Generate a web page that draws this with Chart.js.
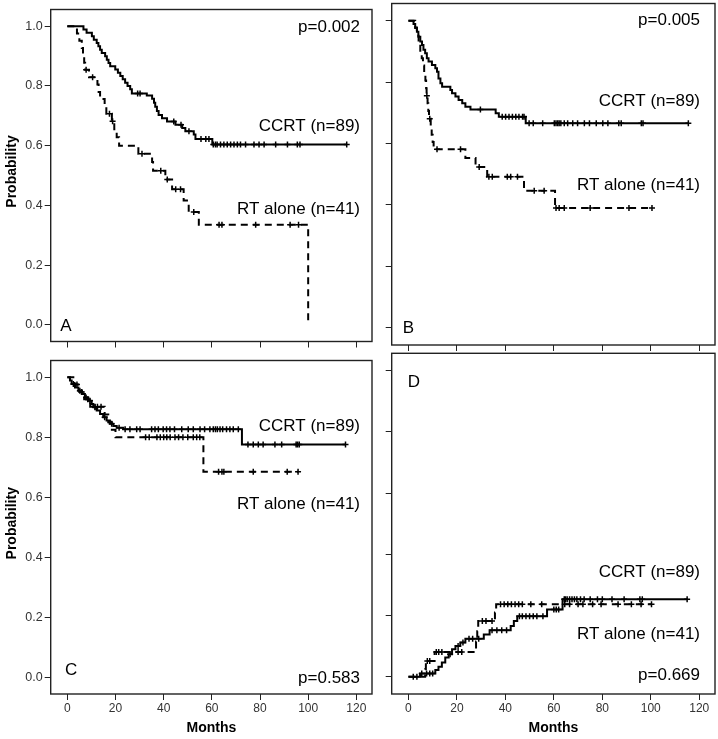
<!DOCTYPE html>
<html>
<head>
<meta charset="utf-8">
<script src="https://cdn.jsdelivr.net/npm/chart.js@4"></script>
<style>
  html, body { margin: 0; padding: 0; background: #fff; }
  #wrap { position: relative; width: 718px; height: 739px; overflow: hidden; }
  canvas { position: absolute; }
</style>
</head>
<body>
<div id="wrap">
  <canvas id="panelA" width="380" height="351" style="left:0;top:0"></canvas>
  <canvas id="panelB" width="338" height="351" style="left:380px;top:0"></canvas>
  <canvas id="panelC" width="380" height="388" style="left:0;top:351px"></canvas>
  <canvas id="panelD" width="338" height="388" style="left:380px;top:351px"></canvas>
</div>
<script>
const FONT = "'Liberation Sans', Arial, sans-serif";

const xTickValues = [0, 20, 40, 60, 80, 100, 120];
const yTickValues = [0, 0.2, 0.4, 0.6, 0.8, 1.0];

// panel A
const aCcrtTimes = [6.7, 8, 10.2, 11, 12.2, 12.9, 13.6, 14.3, 15.7, 16.4, 17.1, 17.8, 19.9, 21, 22, 23, 24, 25, 26.1, 26.8, 33, 35.2, 36, 36.5, 37.2, 37.9, 39.3, 41.4, 44.9, 47.7, 49, 52.5, 53.2, 60.2];
const aCcrtProb = [0.989, 0.978, 0.966, 0.955, 0.944, 0.933, 0.921, 0.910, 0.899, 0.888, 0.877, 0.866, 0.855, 0.844, 0.833, 0.822, 0.811, 0.800, 0.789, 0.775, 0.768, 0.757, 0.744, 0.730, 0.716, 0.703, 0.692, 0.681, 0.670, 0.659, 0.648, 0.637, 0.622, 0.604];
const aCcrtCensor = [29.2, 30.2, 44.2, 47.2, 50.5, 55.5, 57.5, 58.8, 60.6, 61.5, 62.2, 63.6, 65, 66.4, 67.8, 69.2, 70.6, 71.9, 74, 77.5, 79.6, 81.7, 86.5, 91.4, 95.5, 96.6, 116];
const aRtTimes = [4, 5, 6, 6.5, 7, 7.4, 9, 12.5, 13, 13.6, 15.5, 16.2, 18.5, 19.5, 20.5, 21.5, 29.5, 35.2, 35.6, 40.7, 43.5, 48.3, 50.4, 54.6, 100];
const aRtProb = [0.976, 0.951, 0.927, 0.902, 0.878, 0.854, 0.829, 0.805, 0.780, 0.756, 0.731, 0.707, 0.682, 0.655, 0.628, 0.600, 0.573, 0.545, 0.516, 0.487, 0.454, 0.416, 0.378, 0.335, 0];
const aRtCensor = [7.8, 10.5, 17.5, 18.8, 31, 38.8, 41.5, 45, 47, 52.5, 63, 64.2, 78.2, 92.5, 96];

// panel B
const bCcrtTimes = [2.1, 2.8, 3.5, 4.1, 4.9, 5.6, 6.2, 6.9, 7.6, 8.3, 9.7, 11.1, 11.8, 12.4, 13.2, 13.9, 17.3, 18, 19.4, 20.7, 22.2, 23.5, 25.6, 36, 37.3, 48.4];
const bCcrtProb = [0.989, 0.978, 0.964, 0.948, 0.932, 0.921, 0.905, 0.894, 0.878, 0.867, 0.856, 0.845, 0.834, 0.812, 0.796, 0.785, 0.774, 0.764, 0.753, 0.742, 0.731, 0.720, 0.711, 0.699, 0.687, 0.666];
const bCcrtCensor = [29.7, 38.7, 40.1, 41.5, 42.9, 44.3, 45.6, 47.1, 47.7, 49.8, 51.5, 55.4, 60.2, 60.9, 61.6, 62.2, 62.9, 64.3, 65.7, 67.8, 69.8, 72.6, 74.7, 77.5, 80.2, 82.3, 86.8, 87.8, 96.1, 96.8, 115.5];
const bRtTimes = [2.8, 3.5, 4.2, 4.9, 5.5, 6, 6.5, 7, 7.3, 7.5, 7.9, 8.2, 8.5, 9.2, 9.6, 10, 10.4, 23.5, 27.7, 32.5, 47.7, 60.5];
const bRtProb = [0.976, 0.951, 0.927, 0.902, 0.878, 0.854, 0.829, 0.805, 0.780, 0.756, 0.731, 0.706, 0.681, 0.655, 0.629, 0.605, 0.581, 0.553, 0.524, 0.492, 0.446, 0.390];
const bRtCensor = [7.6, 8.8, 11.8, 21.5, 29.2, 33.2, 34.6, 40.8, 42.2, 45, 51.9, 56, 60.9, 62.2, 64.3, 75, 91, 100.5];

// panel C
const cCcrtTimes = [1.1, 1.8, 3.2, 4.6, 6, 7.3, 8.7, 10.1, 10.8, 12.2, 13.6, 14.9, 16.3, 17.7, 19.1, 20.5, 23.2, 72.5];
const cCcrtProb = [0.989, 0.978, 0.966, 0.955, 0.944, 0.933, 0.922, 0.911, 0.900, 0.889, 0.878, 0.867, 0.856, 0.845, 0.838, 0.832, 0.827, 0.776];
const cCcrtCensor = [2.5, 5.2, 7.8, 9.4, 11.5, 15.5, 18.4, 21.5, 24, 26, 28.8, 30.2, 35, 36.4, 37.8, 39.8, 41.2, 42.6, 44.5, 47.5, 50.2, 52.3, 55.1, 57, 59.2, 60.6, 61.5, 62.3, 63.4, 64.5, 66.1, 67.5, 68.9, 71, 75, 77.2, 79.3, 81.3, 86.2, 89, 95, 95.6, 96.3, 115.5];
const cRtTimes = [3, 5, 7, 9.5, 15.5, 17, 18.5, 20, 56.5];
const cRtProb = [0.976, 0.951, 0.927, 0.902, 0.876, 0.850, 0.825, 0.800, 0.685];
const cRtCensor = [4, 6, 8.5, 11.5, 12.5, 14, 32.5, 34, 37.2, 38.6, 40, 41.3, 42.7, 44.7, 46.2, 48, 50, 52.3, 53.7, 55, 62.8, 64.2, 65, 77.2, 91.3, 95.8];

// panel D (rising curves)
const dCcrtTimes = [4.8, 11.1, 12.4, 13.8, 15.2, 16.6, 18, 19.4, 21.4, 23.5, 31.1, 33.5, 42.2, 43.5, 44.9, 57.2, 63.6];
const dCcrtProb = [0.011, 0.022, 0.033, 0.047, 0.063, 0.074, 0.090, 0.101, 0.112, 0.124, 0.138, 0.152, 0.166, 0.182, 0.198, 0.220, 0.253];
const dCcrtCensor = [2, 3.5, 5.5, 7.5, 8.8, 10, 17.2, 20.5, 22.5, 25, 26.5, 29, 34.5, 36.5, 38.5, 40.5, 45.8, 47, 48.5, 50, 51.5, 53, 55.5, 60, 61, 62, 64.3, 64.8, 65.5, 66.5, 67.5, 68.5, 69.5, 71, 72.5, 75, 78, 80, 84, 89, 95.5, 96.5, 115];
const dRtTimes = [6.9, 7.2, 10.8, 27.9, 28.4, 28.8, 35.7, 36.2];
const dRtProb = [0.025, 0.052, 0.081, 0.115, 0.149, 0.182, 0.210, 0.237];
const dRtCensor = [7.8, 8.8, 11.5, 12.5, 13.8, 20.5, 22, 30.5, 32, 34.5, 38, 39.5, 41, 42.5, 44, 45.5, 47, 50.5, 55, 64.5, 66.5, 70, 72, 76, 79.5, 86.5, 92, 96, 100.3];

// value of the step curve at time t
function stepValue(times, probs, start, t) {
  let v = start;
  times.forEach((tt, i) => { if (tt <= t) v = probs[i]; });
  return v;
}

function curvePoints(times, probs, censor, start) {
  const pts = [{ x: 0, y: start }];
  times.forEach((t, i) => pts.push({ x: t, y: probs[i] }));
  const lastT = times[times.length - 1];
  const end = Math.max(lastT, censor[censor.length - 1]);
  if (end > lastT) pts.push({ x: end, y: probs[probs.length - 1] });
  return pts;
}

function censorPoints(times, probs, censor, start) {
  return censor.map(t => ({ x: t, y: stepValue(times, probs, start, t) }));
}

function series(times, probs, censor, start, dashed) {
  return [
    {
      data: curvePoints(times, probs, censor, start),
      showLine: true,
      stepped: "before",
      borderColor: "#000",
      borderWidth: 2,
      borderDash: dashed ? [7, 5] : [],
      pointRadius: 0,
      pointHitRadius: 0,
    },
    {
      data: censorPoints(times, probs, censor, start),
      showLine: false,
      pointStyle: "cross",
      pointRadius: 3,
      borderColor: "#000",
      borderWidth: 1.5,
    },
  ];
}

const framePlugin = {
  id: "frame",
  afterDraw(chart, args, opts) {
    const { ctx, chartArea: a } = chart;
    ctx.save();
    ctx.strokeStyle = "#222";
    ctx.lineWidth = 1.4;
    ctx.strokeRect(a.left, a.top, a.right - a.left, a.bottom - a.top);

    ctx.fillStyle = "#000";
    ctx.textBaseline = "middle";
    ctx.font = "17px " + FONT;
    (opts.notes || []).forEach(([text, ax, dx, ay, dy]) => {
      ctx.textAlign = ax === "r" ? "right" : "left";
      const x = (ax === "r" ? a.right : a.left) + dx;
      const y = (ay === "t" ? a.top : a.bottom) + dy;
      ctx.fillText(text, x, y);
    });

    ctx.font = "bold 14px " + FONT;
    ctx.textAlign = "center";
    if (opts.yTitle) {
      ctx.save();
      ctx.translate(a.left - 38.7, (a.top + a.bottom) / 2 - 4);
      ctx.rotate(-Math.PI / 2);
      ctx.fillText(opts.yTitle, 0, 0);
      ctx.restore();
    }
    if (opts.xTitle) {
      ctx.fillText(opts.xTitle, (a.left + a.right) / 2, a.bottom + 34);
    }
    ctx.restore();
  },
};

function makePanel(id, datasets, p) {
  new Chart(document.getElementById(id), {
    type: "scatter",
    data: { datasets },
    options: {
      responsive: false,
      animation: false,
      events: [],
      layout: { autoPadding: false, padding: p.padding },
      plugins: {
        legend: { display: false },
        tooltip: { enabled: false },
        frame: { notes: p.notes, yTitle: p.yTitle, xTitle: p.xTitle },
      },
      scales: {
        x: {
          type: "linear",
          min: -6.9,
          max: 126.5,
          afterBuildTicks: (axis) => { axis.ticks = xTickValues.map(v => ({ value: v })); },
          afterFit: (axis) => { axis.height = p.xHeight; },
          border: { display: false },
          grid: { drawOnChartArea: false, tickLength: 6, color: "#222" },
          ticks: { display: p.xLabels, padding: 1, color: "#333", font: { family: FONT, size: 12 }, maxRotation: 0 },
        },
        y: {
          type: "linear",
          min: -0.056,
          max: 1.056,
          afterBuildTicks: (axis) => { axis.ticks = yTickValues.map(v => ({ value: v })); },
          afterFit: (axis) => { axis.width = p.yWidth; },
          border: { display: false },
          grid: { drawOnChartArea: false, tickLength: 6, color: "#222" },
          ticks: {
            display: p.yLabels,
            padding: 2,
            color: "#333",
            font: { family: FONT, size: 12.5 },
            callback: (v) => Number(v).toFixed(1),
          },
        },
      },
    },
    plugins: [framePlugin],
  });
}

makePanel("panelA",
  [...series(aCcrtTimes, aCcrtProb, aCcrtCensor, 1, false), ...series(aRtTimes, aRtProb, aRtCensor, 1, true)],
  {
    padding: { top: 3.5, right: 8, bottom: 0, left: 0 },
    yWidth: 50.7, xHeight: 6, yLabels: true, xLabels: false,
    yTitle: "Probability",
    notes: [["p=0.002", "r", -12, "t", 18], ["CCRT (n=89)", "r", -12, "t", 116.5], ["RT alone (n=41)", "r", -12, "t", 199.5], ["A", "l", 9.5, "b", -15]],
  });

makePanel("panelB",
  [...series(bCcrtTimes, bCcrtProb, bCcrtCensor, 1, false), ...series(bRtTimes, bRtProb, bRtCensor, 1, true)],
  {
    padding: { top: 3.5, right: 3, bottom: 0, left: 0 },
    yWidth: 11.7, xHeight: 6, yLabels: false, xLabels: false,
    notes: [["p=0.005", "r", -15, "t", 17], ["CCRT (n=89)", "r", -15, "t", 98], ["RT alone (n=41)", "r", -15, "t", 181.5], ["B", "l", 11, "b", -17]],
  });

makePanel("panelC",
  [...series(cCcrtTimes, cCcrtProb, cCcrtCensor, 1, false), ...series(cRtTimes, cRtProb, cRtCensor, 1, true)],
  {
    padding: { top: 2.3, right: 8, bottom: 0, left: 0 },
    yWidth: 50.7, xHeight: 45, yLabels: true, xLabels: true,
    yTitle: "Probability", xTitle: "Months",
    notes: [["CCRT (n=89)", "r", -12, "t", 65.7], ["RT alone (n=41)", "r", -12, "t", 143.7], ["C", "l", 14.3, "b", -24], ["p=0.583", "r", -12, "b", -16]],
  });

makePanel("panelD",
  [...series(dCcrtTimes, dCcrtProb, dCcrtCensor, 0, false), ...series(dRtTimes, dRtProb, dRtCensor, 0, true)],
  {
    padding: { top: 2.3, right: 3, bottom: 0, left: 0 },
    yWidth: 11.7, xHeight: 45, yLabels: false, xLabels: true,
    xTitle: "Months",
    notes: [["D", "l", 16, "t", 28.7], ["CCRT (n=89)", "r", -15, "t", 219], ["RT alone (n=41)", "r", -15, "t", 280.7], ["p=0.669", "r", -15, "b", -19]],
  });
</script>
</body>
</html>
